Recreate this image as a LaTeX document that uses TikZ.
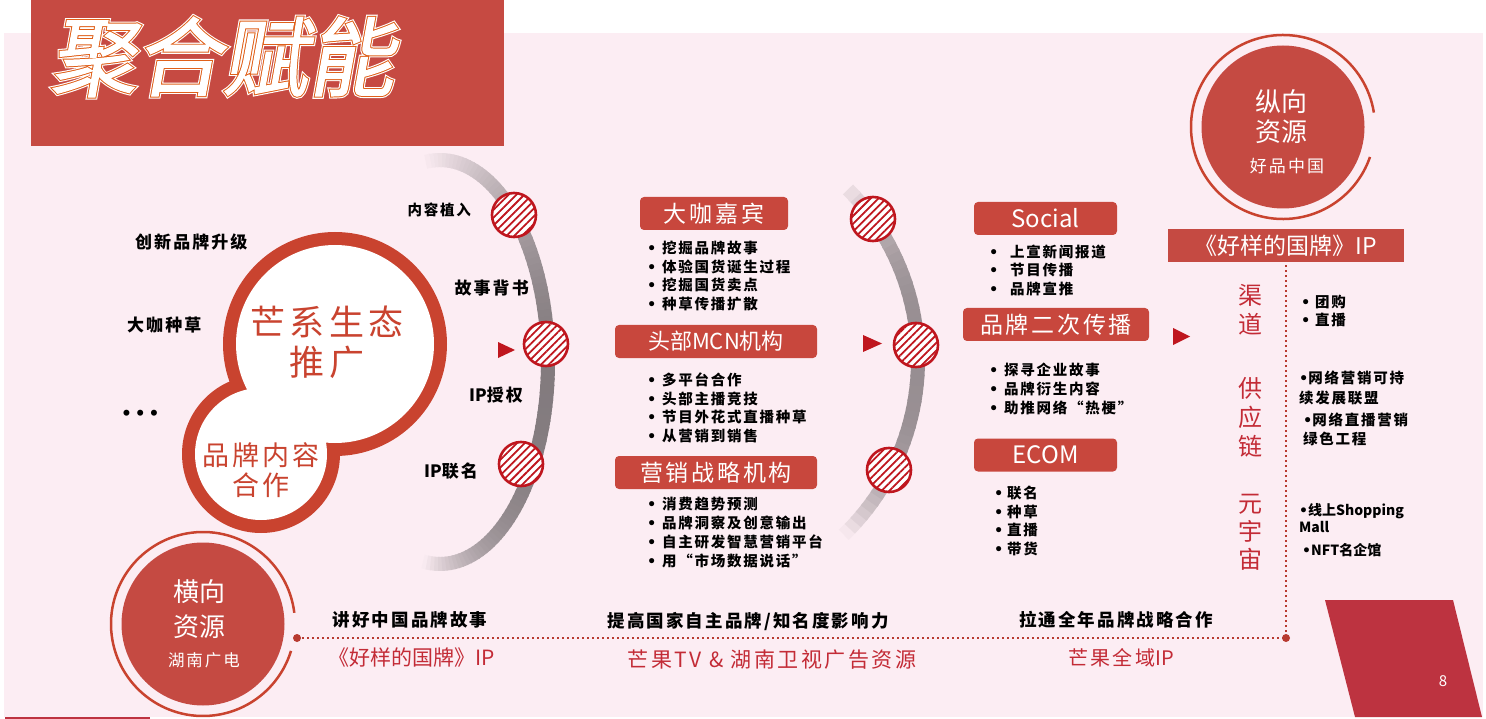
\documentclass[tikz,border=0pt]{standalone}
\usepackage{fontspec}
\setmainfont{Noto Sans CJK SC}
\newfontfamily\spc{Noto Sans CJK SC}[LetterSpace=12]
\newfontfamily\nsp{Noto Sans CJK SC}
\newfontfamily\djv{DejaVu Sans}
\newfontfamily\ttlfont{Noto Sans CJK SC}[FakeSlant=0.18]
\usetikzlibrary{calc, positioning}
\usetikzlibrary{patterns.meta}

\definecolor{bgpink}{HTML}{FCEDF3}
\definecolor{titlered}{HTML}{C64A42}
\definecolor{ringred}{HTML}{C9432F}
\definecolor{boxred}{HTML}{C8473D}
\definecolor{hatchred}{HTML}{BF161E}
\definecolor{txtred}{HTML}{C32B36}
\definecolor{dotred}{HTML}{B83A30}
\definecolor{circred}{HTML}{C54A42}
\definecolor{pagered}{HTML}{BD3340}
\definecolor{ttlorange}{HTML}{E0601A}

\newcommand\fs[2]{\fontsize{#1}{#2}\selectfont}
\newcommand\bul{{\djv\textbullet}}
\newcommand\itm[2][15pt]{\makebox[#1][l]{\bul}#2}

\begin{document}
\begin{tikzpicture}[x=1pt,y=1pt,
  redbox/.style={fill=boxred, rounded corners=4, text=white, inner sep=0, minimum height=33},
  item/.style={anchor=west, inner sep=0, font=\spc\bfseries\fs{14.5}{16}},
  lbl/.style={inner sep=0, font=\spc\bfseries\fs{17}{19}},
  hatch/.style={circle, minimum size=44, inner sep=0, draw=hatchred, line width=2.6, fill=white,
    postaction={pattern={Lines[angle=45,distance=5.5pt,line width=1.8pt]}, pattern color=hatchred}},
  redtxt/.style={inner sep=0, text=txtred},
  dotline/.style={dotred, line width=2.4, dash pattern=on 2.4pt off 2.6pt}]
\useasboundingbox (0,0) rectangle (1486,-719);
\fill[bgpink] (4,-33) rectangle (1483,-717);

% title
\fill[titlered] (31,0) rectangle (504,-146);
\node[inner sep=0, text=white] (t1) at (222,-57) {\ttlfont\addfontfeature{FakeBold=6}\fs{86}{86}聚合赋能};
\node[inner sep=0, text=ttlorange] (t2) at (222,-57) {\ttlfont\addfontfeature{FakeBold=3.5}\fs{86}{86}聚合赋能};
\node[inner sep=0, text=white] (t3) at (222,-57) {\ttlfont\addfontfeature{FakeBold=1.2}\fs{86}{86}聚合赋能};

% gray arcs
\foreach \t in {-99,-97,...,95} {
  \pgfmathsetmacro\q{48*(1-(max(\t,0.01)/98)^1.4)*(1-abs(min(\t,0)/100)^3)}
  \draw[line width=14, color=black!\q!bgpink] (440,-362) ++(\t:108 and 202)
    arc[start angle=\t, end angle=\t+2.6, x radius=108, y radius=202];
}
\foreach \t in {-46,-44,...,42} {
  \pgfmathsetmacro\q{40*(1-abs((\t+1)/46)^3)}
  \draw[line width=14, color=black!\q!bgpink] (675,-360) ++(\t:243)
    arc[start angle=\t, end angle=\t+2.6, radius=243];
}

% left bubbles
\fill[ringred] (335,-344) circle[radius=112] (261,-454) circle[radius=79];
\fill[white] (335,-344) circle[radius=99] (261,-454) circle[radius=66];
\node[redtxt, align=center, font=\spc\fs{35}{40}, text=ringred] (mxst) at (327,-342) {芒系生态\\推广};
\node[redtxt, align=center, font=\spc\fs{27}{30}, text=ringred] (ppnr) at (261,-470) {品牌内容\\合作};

\node[lbl, anchor=west] (cxpp) at (135,-242) {创新品牌升级};
\node[lbl, anchor=west] (dkzc) at (127,-325) {大咖种草};
\node[inner sep=0, anchor=west, font=\djv\bfseries\fs{17}{17}] (dots) at (121,-415) {•\,•\,•};

\node[hatch] (h1) at (514,-215) {};
\node[hatch] (h2) at (546,-344) {};
\node[hatch] (h3) at (521,-464) {};
\node[lbl, anchor=east, font=\spc\bfseries\fs{14.5}{16}] (nrzr) at (471,-210) {内容植入};
\node[lbl, anchor=east] (gsbs) at (529,-288) {故事背书};
\node[lbl, anchor=east] (ipsq) at (523,-395) {{\nsp IP}授权};
\node[lbl, anchor=east] (iplm) at (478,-471) {{\nsp IP}联名};
\fill[hatchred] (498,-342) -- (515,-350) -- (498,-358) -- cycle;

% middle column
\node[redbox, minimum width=148, font=\spc\fs{23}{23}] (dkjb) at (714,-213.5) {大咖嘉宾};
\foreach \txt [count=\i] in {挖掘品牌故事,体验国货诞生过程,挖掘国货卖点,种草传播扩散}
  \node[item] (dk\i) at (647,{-248-18.7*(\i-1)}) {\itm{\txt}};
\node[redbox, minimum width=202, font=\fs{22}{22}] (mcn) at (716,-341.5) {头部MCN机构};
\foreach \txt [count=\i] in {多平台合作,头部主播竞技,节目外花式直播种草,从营销到销售}
  \node[item] (mc\i) at (647,{-380-18.7*(\i-1)}) {\itm{\txt}};
\node[redbox, minimum width=202, font=\spc\fs{23}{23}] (yxzl) at (716,-472.5) {营销战略机构};
\foreach \txt [count=\i] in {消费趋势预测,品牌洞察及创意输出,自主研发智慧营销平台,用“市场数据说话”}
  \node[item] (yx\i) at (647,{-504-19*(\i-1)}) {\itm{\txt}};

\node[hatch] (h4) at (873,-219) {};
\node[hatch] (h5) at (916,-345) {};
\node[hatch] (h6) at (889,-470) {};
\fill[hatchred] (863,-335) -- (882,-343.5) -- (863,-352) -- cycle;

% right column
\node[redbox, minimum width=143, font=\fs{24}{24}] (social) at (1045.5,-218.5) {Social};
\foreach \txt [count=\i] in {上宣新闻报道,节目传播,品牌宣推}
  \node[item] (so\i) at (989,{-252-18.5*(\i-1)}) {\itm[21pt]{\txt}};
\node[redbox, minimum width=186, font=\spc\fs{23}{23}] (ecjb) at (1056,-324.5) {品牌二次传播};
\foreach \txt [count=\i] in {探寻企业故事,品牌衍生内容,助推网络“热梗”}
  \node[item] (ec\i) at (989,{-370-19*(\i-1)}) {\itm{\txt}};
\node[redbox, minimum width=143, font=\fs{24}{24}] (ecom) at (1045.5,-455) {ECOM};
\foreach \txt [count=\i] in {联名,种草,直播,带货}
  \node[item] (eo\i) at (994,{-493-18.5*(\i-1)}) {\itm[13pt]{\txt}};

% far right
\node[circle, fill=circred, minimum size=163, inner sep=0] (zxzy) at (1283,-127) {};
\draw[ringred, line width=2.5] (zxzy.center) ++(9:92) arc[start angle=9, end angle=341, radius=92];
\node[inner sep=0, text=white, align=center, font=\fs{26}{30}] (zxt) at (1281,-117) {纵向\\资源};
\node[inner sep=0, text=white, font=\spc\fs{17}{17}] (hpzg) at (1287,-166) {好品中国};
\node[fill=circred, minimum width=236, minimum height=33, inner sep=0, text=white, font=\fs{23}{23}] (bannerip) at (1286,-245.5) {《好样的国牌》IP};
\fill[hatchred] (1173,-328) -- (1190,-336.5) -- (1173,-345) -- cycle;

\node[redtxt, align=center, font=\fs{24}{29}] (qd) at (1250,-310) {渠\\道};
\node[redtxt, align=center, font=\fs{24}{29}] (gyl) at (1250,-417) {供\\应\\链};
\node[redtxt, align=center, font=\fs{24}{28}] (yyz) at (1250,-532) {元\\宇\\宙};

\node[item] (tg1) at (1301,-302) {\itm[14pt]{团购}};
\node[item] (tg2) at (1301,-320) {\itm[14pt]{直播}};
\node[item, anchor=north west, align=left, font=\spc\bfseries\fs{14.5}{19.5}] (wl1) at (1299,-371) {\bul 网络营销可持\\续发展联盟};
\node[item, anchor=north west, align=left, font=\spc\bfseries\fs{14.5}{19}] (wl2) at (1303,-413) {\bul 网络直播营销\\绿色工程};
\node[item, anchor=north west, align=left, font=\bfseries\fs{14}{17}] (xs) at (1299,-503) {\bul 线上Shopping\\Mall};
\node[item, font=\bfseries\fs{14}{14}] (nft) at (1302,-550) {\bul NFT名企馆};

% bottom left circle
\node[circle, fill=circred, minimum size=163, inner sep=0] (hxzy) at (203,-624) {};
\draw[ringred, line width=2.5] (hxzy.center) ++(7:92) arc[start angle=7, end angle=343, radius=92];
\node[inner sep=0, text=white, align=center, font=\fs{26}{35}] (hxt) at (199,-609) {横向\\资源};
\node[inner sep=0, text=white, font=\spc\fs{16.5}{17}] (hngd) at (204,-660) {湖南广电};

% bottom line
\coordinate (ldot) at (297,-638);
\coordinate (rdot) at (bannerip.south |- ldot);
\draw[dotline] (ldot) -- (rdot) -- (bannerip.south);
\fill[dotred] (ldot) circle[radius=4];
\fill[dotred] (rdot) circle[radius=4];

\node[lbl, font=\spc\bfseries\fs{17.5}{19}] (jhzg) at (410,-620) {讲好中国品牌故事};
\node[redtxt, font=\fs{21}{21}] (hyip) at (412,-658) {《好样的国牌》IP};
\node[lbl, font=\spc\bfseries\fs{17.5}{19}] (tgzz) at (748,-622) {提高国家自主品牌/知名度影响力};
\node[redtxt, font=\spc\fs{21}{21}] (mgtv) at (772,-660) {芒果TV \& 湖南卫视广告资源};
\node[lbl, font=\spc\bfseries\fs{17.5}{19}] (ltqn) at (1116,-620) {拉通全年品牌战略合作};
\node[redtxt, font=\spc\fs{20}{20}] (mgqy) at (1121,-658) {芒果全域{\nsp IP}};

% page corner
\fill[pagered] (1325,-600) -- (1453,-600) -- (1482,-717) -- (1355,-717) -- cycle;
\node[inner sep=0, text=white, font=\fs{15}{15}] (pnum) at (1443,-681) {8};
\draw[pagered, line width=2] (5,-718) -- (150,-718);
\end{tikzpicture}
\end{document}
